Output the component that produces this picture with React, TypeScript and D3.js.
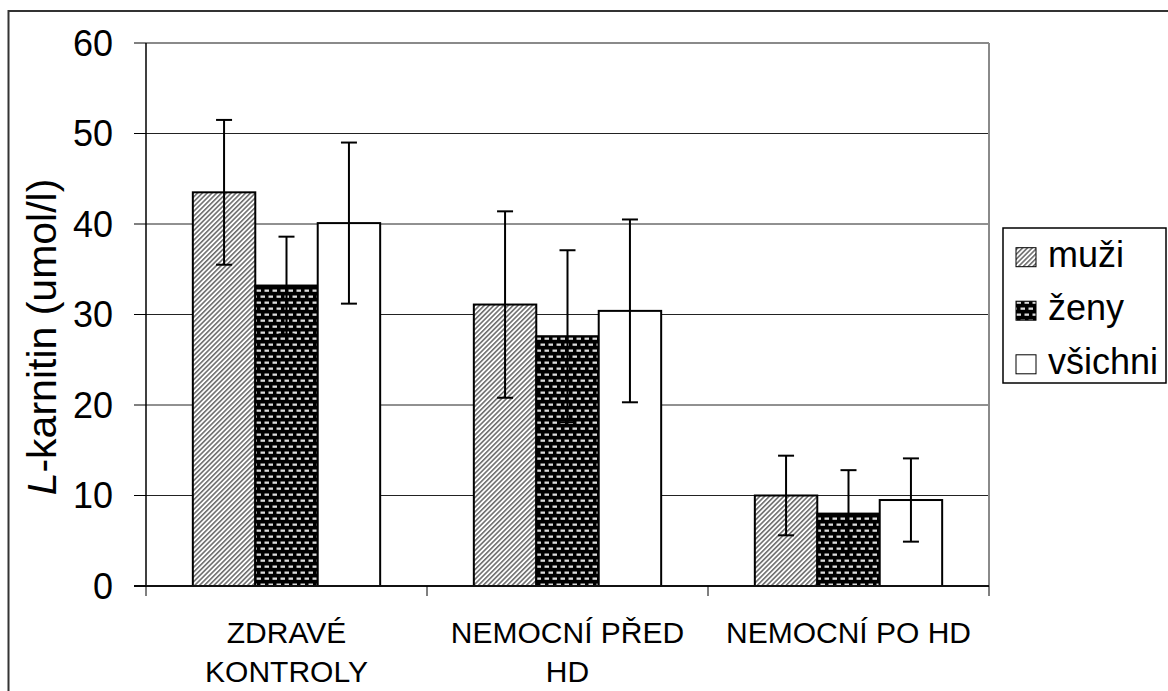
import React from "react";
import * as d3 from "d3";

const categories = ["ZDRAVÉ\nKONTROLY", "NEMOCNÍ PŘED\nHD", "NEMOCNÍ PO HD"];
const seriesNames = ["muži", "ženy", "všichni"];
const muzi = [43.5, 31.1, 10.0];
const muziErr = [8.0, 10.3, 4.4];
const zeny = [33.2, 27.6, 8.0];
const zenyErr = [5.4, 9.5, 4.8];
const vsichni = [40.1, 30.4, 9.5];
const vsichniErr = [8.9, 10.1, 4.6];
const yTicks = [0, 10, 20, 30, 40, 50, 60];

const W = 1168;
const H = 691;
const FONT = "'Liberation Sans', Arial, sans-serif";

export default function App() {
  const left = 146, right = 989, top = 43, bottom = 586;
  const y = d3.scaleLinear().domain([0, 60]).range([bottom, top]);
  const x = d3.scaleBand<string>().domain(categories).range([left, right]).padding(0);
  const xi = d3.scaleBand<string>().domain(seriesNames).range([0, x.bandwidth()]).paddingInner(0).paddingOuter(0.75);
  const values = [muzi, zeny, vsichni];
  const errs = [muziErr, zenyErr, vsichniErr];
  const fills = ["url(#pStripe)", "url(#pDots)", "#ffffff"];

  const legendY = [266.7, 320.2, 373.8];

  return (
    <svg width={W} height={H} style={{ position: "absolute", left: 0, top: 0 }} fontFamily={FONT}>
      <defs>
        <pattern id="pStripe" width={3.4} height={10} patternUnits="userSpaceOnUse" patternTransform="rotate(45)">
          <rect width={3.4} height={10} fill="#ffffff" />
          <line x1={0.8} y1={0} x2={0.8} y2={10} stroke="#5a5a5a" strokeWidth={1.4} />
        </pattern>
        <pattern id="pDots" width={8} height={12} patternUnits="userSpaceOnUse">
          <rect width={8} height={12} fill="#000000" />
          <rect x={0.5} y={1.5} width={4.5} height={2.3} fill="#dcdcdc" />
          <rect x={4.5} y={7.5} width={3.5} height={2.3} fill="#dcdcdc" />
          <rect x={0} y={7.5} width={1} height={2.3} fill="#dcdcdc" />
        </pattern>
      </defs>
      <rect x={0} y={0} width={W} height={H} fill="#ffffff" />
      {/* outer frame */}
      <rect x={8.5} y={11} width={W + 20} height={H + 20} fill="none" stroke="#333333" strokeWidth={2} />

      {/* gridlines */}
      {yTicks.filter((t) => t > 0 && t < 60).map((t) => (
        <line key={"g" + t} x1={left} x2={right} y1={y(t)} y2={y(t)} stroke="#222222" strokeWidth={1} />
      ))}
      {/* plot area border top/right */}
      <line x1={left} x2={right} y1={y(60)} y2={y(60)} stroke="#8a8a8a" strokeWidth={2} />
      <line x1={right} x2={right} y1={y(60)} y2={bottom} stroke="#8a8a8a" strokeWidth={2} />

      {/* bars */}
      {categories.map((c, ci) =>
        seriesNames.map((s, si) => {
          const bx = (x(c) as number) + (xi(s) as number);
          const v = values[si][ci];
          return (
            <rect key={c + s} x={bx} y={y(v)} width={xi.bandwidth()} height={bottom - y(v)}
              fill={fills[si]} stroke="#000" strokeWidth={2} />
          );
        })
      )}
      {/* error bars */}
      {categories.map((c, ci) =>
        seriesNames.map((s, si) => {
          const cx = (x(c) as number) + (xi(s) as number) + xi.bandwidth() / 2;
          const v = values[si][ci];
          const e = errs[si][ci];
          return (
            <g key={"e" + c + s} stroke="#000" strokeWidth={2}>
              <line x1={cx} x2={cx} y1={y(v + e)} y2={y(v - e)} />
              <line x1={cx - 8} x2={cx + 8} y1={y(v + e)} y2={y(v + e)} />
              <line x1={cx - 8} x2={cx + 8} y1={y(v - e)} y2={y(v - e)} />
            </g>
          );
        })
      )}

      {/* axes */}
      <line x1={left} x2={left} y1={top} y2={bottom} stroke="#000" strokeWidth={1.5} />
      <line x1={left - 12} x2={right} y1={bottom} y2={bottom} stroke="#111" strokeWidth={2} />
      {yTicks.map((t) => (
        <g key={"t" + t}>
          <line x1={left - 12} x2={left} y1={y(t)} y2={y(t)} stroke="#000" strokeWidth={1} />
          <text x={left - 33} y={y(t)} dy="0.35em" textAnchor="end" fontSize={36} fill="#000">{t}</text>
        </g>
      ))}
      {[...categories.map((c) => x(c) as number), right].map((px, i) => (
        <line key={"xt" + i} x1={px} x2={px} y1={bottom} y2={bottom + 10} stroke="#000" strokeWidth={1} />
      ))}
      {categories.map((c) => (
        <text key={"cl" + c} x={(x(c) as number) + x.bandwidth() / 2} y={642.5} textAnchor="middle" fontSize={30} fill="#000">
          {c.split("\n").map((ln, li) => (
            <tspan key={li} x={(x(c) as number) + x.bandwidth() / 2} dy={li === 0 ? 0 : 39}>{ln}</tspan>
          ))}
        </text>
      ))}

      {/* y title */}
      <text transform={`translate(56,337) rotate(-90)`} textAnchor="middle" fontSize={41} fill="#000">
        <tspan fontStyle="italic">L</tspan>-karnitin (umol/l)
      </text>

      {/* legend */}
      <rect x={1003} y={228} width={163} height={155} fill="#fff" stroke="#000" strokeWidth={1.5} />
      {seriesNames.map((s, si) => (
        <g key={"lg" + s}>
          <rect x={1016} y={legendY[si] - 19} width={20} height={19} fill={fills[si]} stroke="#000" strokeWidth={1} />
          <text x={1048} y={legendY[si]} fontSize={36} fill="#000">{s}</text>
        </g>
      ))}
    </svg>
  );
}
